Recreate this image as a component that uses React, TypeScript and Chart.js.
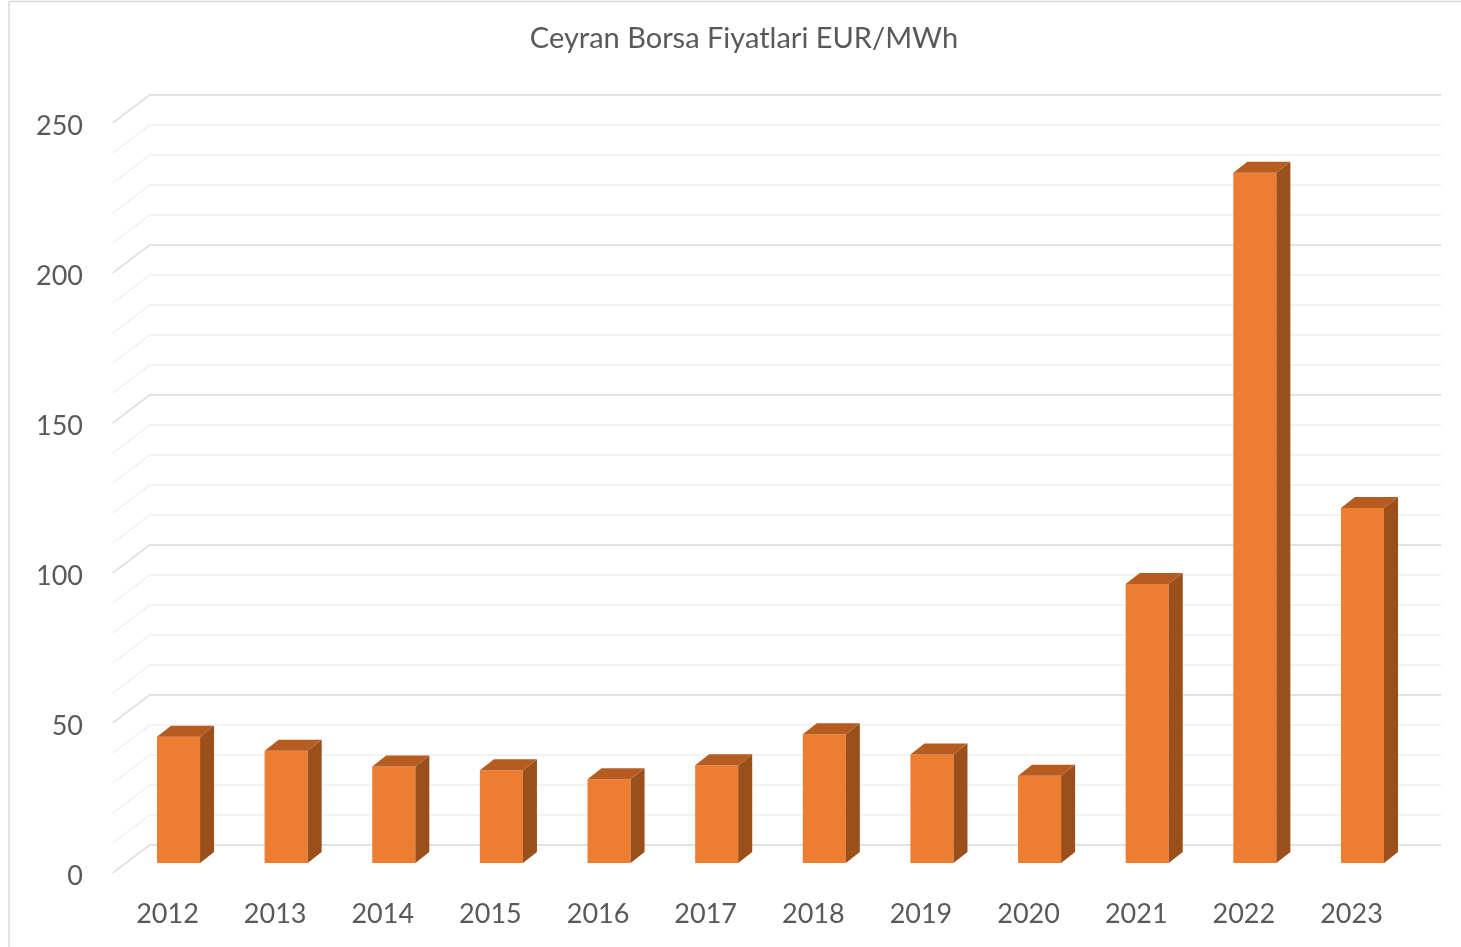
import React, { useEffect, useRef } from "react";
import { Chart, registerables } from "chart.js";

Chart.register(...registerables);

const TITLE = "Ceyran Borsa Fiyatlari EUR/MWh";
const YEARS = ["2012", "2013", "2014", "2015", "2016", "2017", "2018", "2019", "2020", "2021", "2022", "2023"];
const PRICES = [42.1, 37.4, 32.2, 30.9, 27.9, 32.6, 42.9, 36.2, 29.1, 93.0, 230.1, 118.3];
const Y_MAX = 250;
const MAJOR_STEP = 50;
const MINOR_STEP = 10;

const FONT = "Lato, 'Open Sans', sans-serif";
const TEXT_COLOR = "#595959";
const FRONT_COLOR = "#ed7d31";
const TOP_COLOR = "#b65c21";
const SIDE_COLOR = "#9b501c";

// perspective offsets, relative to the bars' front face plane
const FRONT_DX = -12, FRONT_DY = 10;
const BACK_DX = 25, BACK_DY = -18;
const BAR_DX = 14, BAR_DY = -11;

const threeD = {
  id: "threeD",
  beforeDraw(chart: any) {
    const ctx = chart.ctx;
    ctx.save();
    ctx.strokeStyle = "#d9d9d9";
    ctx.lineWidth = 1.5;
    ctx.strokeRect(9, 1.5, 2000, 2000);
    ctx.restore();
  },
  beforeDatasetsDraw(chart: any) {
    const ctx = chart.ctx;
    const y = chart.scales.y;
    const x = chart.scales.x;
    ctx.save();
    for (let v = 0; v <= Y_MAX; v += MINOR_STEP) {
      const py = y.getPixelForValue(v);
      const major = v % MAJOR_STEP === 0;
      ctx.strokeStyle = major ? "#d9d9d9" : "#f0f0f0";
      ctx.lineWidth = 1.5;
      ctx.beginPath();
      ctx.moveTo(x.left + FRONT_DX, py + FRONT_DY);
      ctx.lineTo(x.left + BACK_DX, py + BACK_DY);
      ctx.lineTo(x.right + BACK_DX, py + BACK_DY);
      ctx.stroke();
    }
    ctx.restore();
  },
  afterDatasetsDraw(chart: any) {
    const ctx = chart.ctx;
    const meta = chart.getDatasetMeta(0);
    ctx.save();
    meta.data.forEach((bar: any) => {
      const p = bar.getProps(["x", "y", "base", "width"], true);
      const l = p.x - p.width / 2;
      const r = p.x + p.width / 2;
      const t = p.y;
      const b = p.base;
      // side face
      ctx.fillStyle = SIDE_COLOR;
      ctx.beginPath();
      ctx.moveTo(r, t);
      ctx.lineTo(r + BAR_DX, t + BAR_DY);
      ctx.lineTo(r + BAR_DX, b + BAR_DY);
      ctx.lineTo(r, b);
      ctx.closePath();
      ctx.fill();
      // top face
      ctx.fillStyle = TOP_COLOR;
      ctx.beginPath();
      ctx.moveTo(l, t);
      ctx.lineTo(l + BAR_DX, t + BAR_DY);
      ctx.lineTo(r + BAR_DX, t + BAR_DY);
      ctx.lineTo(r, t);
      ctx.closePath();
      ctx.fill();
    });
    ctx.restore();
  },
};

export default function App() {
  const ref = useRef<HTMLCanvasElement>(null);
  useEffect(() => {
    if (!ref.current) return;
    const chart = new Chart(ref.current, {
      type: "bar",
      data: {
        labels: YEARS,
        datasets: [
          {
            data: PRICES,
            backgroundColor: FRONT_COLOR,
            borderWidth: 0,
            barPercentage: 0.4,
            categoryPercentage: 1,
            yAxisID: "y",
          },
        ],
      },
      options: {
        animation: false,
        responsive: true,
        maintainAspectRatio: false,
        layout: { padding: { left: 27, right: 0, top: 0, bottom: 0 } },
        plugins: {
          legend: { display: false },
          tooltip: { enabled: false },
          title: {
            display: true,
            text: TITLE,
            color: TEXT_COLOR,
            font: { family: FONT, size: 29, weight: "normal" },
            padding: { top: 21.6, bottom: 56.6 },
          },
        },
        scales: {
          x: {
            offset: true,
            grid: { display: false, drawTicks: false },
            border: { display: false },
            ticks: {
              color: TEXT_COLOR,
              font: { family: FONT, size: 27 },
              padding: 35,
              labelOffset: -11,
              maxRotation: 0,
            },
            afterFit: (s: any) => {
              s.height = 84;
            },
          },
          y: {
            min: 0,
            max: Y_MAX,
            grid: { display: false, drawTicks: false },
            border: { display: false },
            ticks: {
              stepSize: MAJOR_STEP,
              color: TEXT_COLOR,
              font: { family: FONT, size: 27 },
              padding: 41.7,
              labelOffset: 13,
            },
            afterFit: (s: any) => {
              s.width = 97.7;
            },
          },
          yRight: {
            position: "right",
            min: 0,
            max: Y_MAX,
            grid: { display: false, drawTicks: false },
            border: { display: false },
            ticks: { display: false },
            afterFit: (s: any) => {
              s.width = 44.7;
            },
          },
        },
      },
      plugins: [threeD],
    });
    return () => chart.destroy();
  }, []);
  return (
    <div style={{ position: "absolute", left: 0, top: 0, width: 1461, height: 947, background: "#fff" }}>
      <canvas ref={ref} />
    </div>
  );
}
